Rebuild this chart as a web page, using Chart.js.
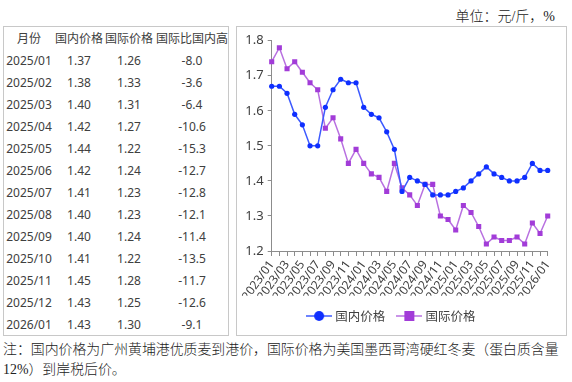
<!DOCTYPE html>
<html>
<head>
<meta charset="utf-8">
<script src="https://cdn.jsdelivr.net/npm/chart.js@4"></script>
<style>
    body { margin: 0; width: 572px; height: 382px; background: #fff; position: relative; overflow: hidden;
           font-family: "Noto Sans", "Noto Sans CJK SC", sans-serif; }
    #unit { position: absolute; right: 17px; top: 5px; font-size: 14px; color: #222; font-weight: 300;
            font-family: "Liberation Serif", "Noto Sans CJK SC", serif; }
    #tbl { position: absolute; left: 3px; top: 26px; width: 226px; height: 310px; box-sizing: border-box;
           border: 1px solid #c8c8c8; color: #404040; font-size: 12px; }
    .row { position: absolute; left: 0; width: 100%; height: 22px; line-height: 22px; white-space: nowrap; }
    .row span { position: absolute; top: 0; text-align: center; }
    #chartBox { position: absolute; left: 236px; top: 26px; width: 331px; height: 310px; box-sizing: border-box;
                border: 1px solid #c8c8c8; }
    #note { position: absolute; left: 3px; top: 340px; width: 566px; font-size: 13.9px; line-height: 20px; color: #222;
            font-weight: 300; font-family: "Liberation Serif", "Noto Sans CJK SC", serif; }
</style>
</head>
<body>
<div id="unit">单位：元/斤，%</div>
<div id="tbl"></div>
<div id="chartBox"><canvas id="priceChart"></canvas></div>
<div id="note">注：国内价格为广州黄埔港优质麦到港价，国际价格为美国墨西哥湾硬红冬麦（蛋白质含量12%）到岸税后价。</div>

<script>
// chart data
const months = [
    '2023/01', '2023/02', '2023/03', '2023/04', '2023/05', '2023/06', '2023/07', '2023/08', '2023/09', '2023/10', '2023/11', '2023/12',
    '2024/01', '2024/02', '2024/03', '2024/04', '2024/05', '2024/06', '2024/07', '2024/08', '2024/09', '2024/10', '2024/11', '2024/12',
    '2025/01', '2025/02', '2025/03', '2025/04', '2025/05', '2025/06', '2025/07', '2025/08', '2025/09', '2025/10', '2025/11', '2025/12',
    '2026/01'
];
const domesticPrice = [
    1.67, 1.67, 1.65, 1.59, 1.56, 1.50, 1.50, 1.61, 1.66, 1.69, 1.68, 1.68,
    1.61, 1.59, 1.58, 1.54, 1.49, 1.37, 1.41, 1.40, 1.39, 1.36, 1.36, 1.36,
    1.37, 1.38, 1.40, 1.42, 1.44, 1.42, 1.41, 1.40, 1.40, 1.41, 1.45, 1.43,
    1.43
];
const intlPrice = [
    1.74, 1.78, 1.72, 1.74, 1.71, 1.68, 1.66, 1.55, 1.58, 1.52, 1.45, 1.49,
    1.45, 1.42, 1.41, 1.37, 1.45, 1.38, 1.36, 1.33, 1.39, 1.39, 1.30, 1.29,
    1.26, 1.33, 1.31, 1.27, 1.22, 1.24, 1.23, 1.23, 1.24, 1.22, 1.28, 1.25,
    1.30
];

// table data
const tableHeader = ['月份', '国内价格', '国际价格', '国际比国内高'];
const tableMonths = ['2025/01', '2025/02', '2025/03', '2025/04', '2025/05', '2025/06', '2025/07',
                     '2025/08', '2025/09', '2025/10', '2025/11', '2025/12', '2026/01'];
const tableDomestic = ['1.37', '1.38', '1.40', '1.42', '1.44', '1.42', '1.41', '1.40', '1.40', '1.41', '1.45', '1.43', '1.43'];
const tableIntl = ['1.26', '1.33', '1.31', '1.27', '1.22', '1.24', '1.23', '1.23', '1.24', '1.22', '1.28', '1.25', '1.30'];
const tableDiff = ['-8.0', '-3.6', '-6.4', '-10.6', '-15.3', '-12.7', '-12.8', '-12.1', '-11.4', '-13.5', '-11.7', '-12.6', '-9.1'];

const DOMESTIC_LINE = '#3d5afe';
const DOMESTIC_POINT = '#0f2fff';
const INTL_LINE = '#b870e0';
const INTL_POINT = '#a23cd8';
const AXIS_COLOR = '#8c8c8c';
const TEXT_COLOR = '#404040';

// --- table ---
const colBounds = [[0, 50], [50, 100], [100, 150], [150, 226]];

function addRow(cells, index) {
    const row = document.createElement('div');
    row.className = 'row';
    row.style.top = (0.5 + 22 * index) + 'px';
    cells.forEach((text, c) => {
        const span = document.createElement('span');
        span.textContent = text;
        span.style.left = colBounds[c][0] + 'px';
        span.style.width = (colBounds[c][1] - colBounds[c][0]) + 'px';
        row.appendChild(span);
    });
    document.getElementById('tbl').appendChild(row);
}

addRow(tableHeader, 0);
tableMonths.forEach((m, i) => addRow([m, tableDomestic[i], tableIntl[i], tableDiff[i]], i + 1));

// --- legend icons: line with marker ---
function legendIcon(lineColor, pointColor, shape) {
    const c = document.createElement('canvas');
    c.width = 26;
    c.height = 12;
    const g = c.getContext('2d');
    g.strokeStyle = lineColor;
    g.lineWidth = 1.5;
    g.beginPath();
    g.moveTo(0, 6);
    g.lineTo(26, 6);
    g.stroke();
    g.fillStyle = pointColor;
    if (shape === 'circle') {
        g.beginPath();
        g.arc(13, 6, 5, 0, Math.PI * 2);
        g.fill();
    } else {
        g.fillRect(8, 1, 10, 10);
    }
    return c;
}

const icons = [
    legendIcon(DOMESTIC_LINE, DOMESTIC_POINT, 'circle'),
    legendIcon(INTL_LINE, INTL_POINT, 'rect')
];

// --- chart ---
new Chart(document.getElementById('priceChart'), {
    type: 'line',
    data: {
        labels: months,
        datasets: [
            {
                label: '国内价格',
                data: domesticPrice,
                borderColor: DOMESTIC_LINE,
                borderWidth: 1.5,
                pointBackgroundColor: DOMESTIC_POINT,
                pointBorderWidth: 0,
                pointRadius: 2.6,
                pointStyle: 'circle',
                tension: 0
            },
            {
                label: '国际价格',
                data: intlPrice,
                borderColor: INTL_LINE,
                borderWidth: 1.5,
                pointBackgroundColor: INTL_POINT,
                pointBorderWidth: 0,
                pointRadius: 3.6,
                pointStyle: 'rect',
                tension: 0
            }
        ]
    },
    options: {
        responsive: true,
        maintainAspectRatio: false,
        animation: false,
        devicePixelRatio: 1,
        layout: { padding: { top: 13.7, right: 18.3, bottom: 2.75, left: 0 } },
        plugins: {
            tooltip: { enabled: false },
            legend: {
                position: 'bottom',
                labels: {
                    usePointStyle: true,
                    pointStyleWidth: 20,
                    padding: 14,
                    color: TEXT_COLOR,
                    font: { family: '"Noto Sans CJK SC", sans-serif', size: 12.5 },
                    generateLabels: (chart) => chart.data.datasets.map((ds, i) => ({
                        text: ds.label,
                        pointStyle: icons[i],
                        fillStyle: ds.pointBackgroundColor,
                        strokeStyle: ds.borderColor,
                        lineWidth: 0,
                        hidden: false,
                        datasetIndex: i,
                        fontColor: TEXT_COLOR
                    }))
                }
            }
        },
        scales: {
            x: {
                type: 'category',
                offset: false,
                grid: { drawOnChartArea: false, tickLength: 5, color: AXIS_COLOR },
                border: { color: AXIS_COLOR },
                ticks: {
                    autoSkip: false,
                    minRotation: 54,
                    maxRotation: 54,
                    padding: 2,
                    color: TEXT_COLOR,
                    font: { family: '"Noto Sans", sans-serif', size: 12 },
                    callback: function (value, index) {
                        return index % 2 === 0 ? this.getLabelForValue(value) : '';
                    }
                },
                afterFit: (scale) => { scale.height = 44.75; }
            },
            y: {
                min: 1.2,
                max: 1.8,
                grid: { drawOnChartArea: false, tickLength: 4, color: AXIS_COLOR },
                border: { color: AXIS_COLOR },
                ticks: {
                    stepSize: 0.1,
                    padding: 4,
                    color: TEXT_COLOR,
                    font: { family: '"Noto Sans", sans-serif', size: 13 },
                    callback: (value) => value.toFixed(1)
                },
                afterFit: (scale) => { scale.width = 34.7; }
            }
        }
    }
});
</script>
</body>
</html>
